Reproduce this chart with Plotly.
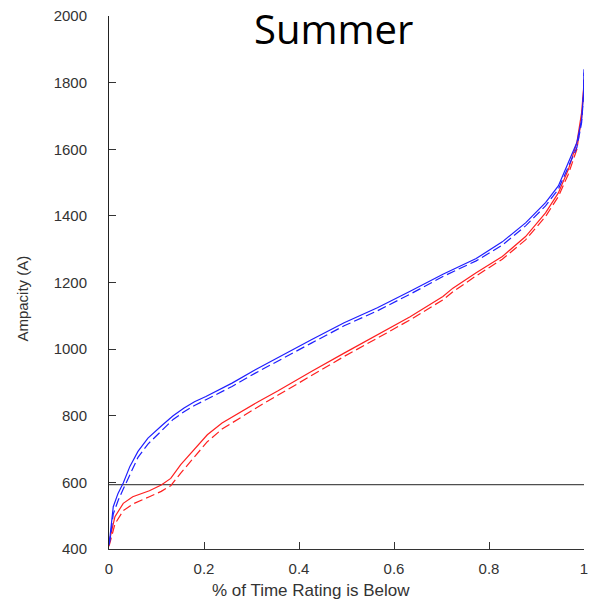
import plotly.graph_objects as go

# Blue solid
bs_x = [0.0, 0.002, 0.009, 0.019, 0.03, 0.044, 0.061, 0.082, 0.113, 0.135, 0.158, 0.18, 0.204, 0.259, 0.308, 0.356,
        0.398, 0.426, 0.495, 0.565, 0.634, 0.703, 0.773, 0.828, 0.877, 0.919, 0.946, 0.967, 0.985, 0.995, 0.999, 1.0]
bs_y = [420, 436, 527, 567, 598, 648, 693, 733, 773, 800, 823, 842, 858, 898, 938, 975,
        1008, 1028, 1079, 1124, 1174, 1225, 1272, 1322, 1379, 1440, 1490, 1560, 1620, 1690, 1770, 1840]
# Blue dashed
bd_x = bs_x
bd_y = [412, 425, 505, 545, 580, 625, 675, 715, 760, 789, 812, 831, 848, 888, 928, 965,
        998, 1018, 1070, 1115, 1165, 1218, 1265, 1312, 1370, 1430, 1480, 1545, 1605, 1680, 1760, 1830]
# Red solid
rs_x = [0.0, 0.002, 0.0125, 0.03, 0.05, 0.085, 0.11, 0.13, 0.151, 0.179, 0.207, 0.238, 0.273, 0.315, 0.356,
        0.398, 0.426, 0.495, 0.565, 0.634, 0.703, 0.724, 0.773, 0.828, 0.877, 0.919, 0.946, 0.967, 0.985, 0.995, 0.999, 1.0]
rs_y = [415, 432, 497, 537, 557, 575, 592, 612, 653, 698, 743, 778, 808, 843, 875,
        910, 933, 988, 1043, 1097, 1158, 1183, 1229, 1278, 1338, 1409, 1469, 1539, 1620, 1710, 1780, 1810]
# Red dashed
rd_x = rs_x
rd_y = [408, 418, 475, 515, 535, 557, 573, 590, 628, 675, 722, 760, 792, 828, 862,
        897, 922, 978, 1033, 1088, 1148, 1172, 1220, 1270, 1328, 1398, 1458, 1525, 1600, 1695, 1770, 1800]
# Reference rating line
ref_x = [0, 1]
ref_y = [593, 593]

x_ticks = [0, 0.2, 0.4, 0.6, 0.8, 1]
x_tick_text = ["0", "0.2", "0.4", "0.6", "0.8", "1"]
y_ticks = [400, 600, 800, 1000, 1200, 1400, 1600, 1800, 2000]

fig = go.Figure()
fig.add_trace(go.Scatter(x=ref_x, y=ref_y, mode="lines", line=dict(color="#222222", width=1), showlegend=False))
fig.add_trace(go.Scatter(x=rd_x, y=rd_y, mode="lines", line=dict(color="#ff2020", width=1.2, dash="9px,4px"), showlegend=False))
fig.add_trace(go.Scatter(x=rs_x, y=rs_y, mode="lines", line=dict(color="#ff2020", width=1.2), showlegend=False))
fig.add_trace(go.Scatter(x=bd_x, y=bd_y, mode="lines", line=dict(color="#1f1fff", width=1.2, dash="9px,4px"), showlegend=False))
fig.add_trace(go.Scatter(x=bs_x, y=bs_y, mode="lines", line=dict(color="#1f1fff", width=1.2), showlegend=False))

fig.update_layout(
    width=589, height=602,
    margin=dict(l=109, r=5, t=16, b=53),
    plot_bgcolor="white", paper_bgcolor="white",
    font=dict(family="Liberation Sans, Arial", size=15, color="#333333"),
    xaxis=dict(range=[0, 1], tickvals=x_ticks, ticktext=x_tick_text, ticks="inside", ticklen=7,
               tickcolor="#333333", showline=True, linecolor="#333333", linewidth=1, showgrid=False,
               zeroline=False, ticklabelstandoff=6, ticklabeloverflow="allow", automargin=False),
    yaxis=dict(range=[400, 2000], tickvals=y_ticks, ticks="inside", ticklen=7,
               tickcolor="#333333", showline=True, linecolor="#222222", linewidth=1, showgrid=False,
               zeroline=False, ticklabelstandoff=18, automargin=False),
    annotations=[
        dict(text="Summer", xref="paper", yref="paper", x=0.472, y=0.977, xanchor="center", yanchor="middle",
             showarrow=False, font=dict(family="Open Sans", size=40, color="black")),
        dict(text="% of Time Rating is Below", xref="paper", yref="paper", x=0.425, y=-0.078,
             xanchor="center", yanchor="middle", showarrow=False, font=dict(size=17, color="#333333")),
        dict(text="Ampacity (A)", xref="paper", yref="paper", x=-0.183, y=0.47, textangle=-90,
             xanchor="center", yanchor="middle", showarrow=False, font=dict(size=15, color="#333333")),
    ],
)
fig.write_html("out.html")
